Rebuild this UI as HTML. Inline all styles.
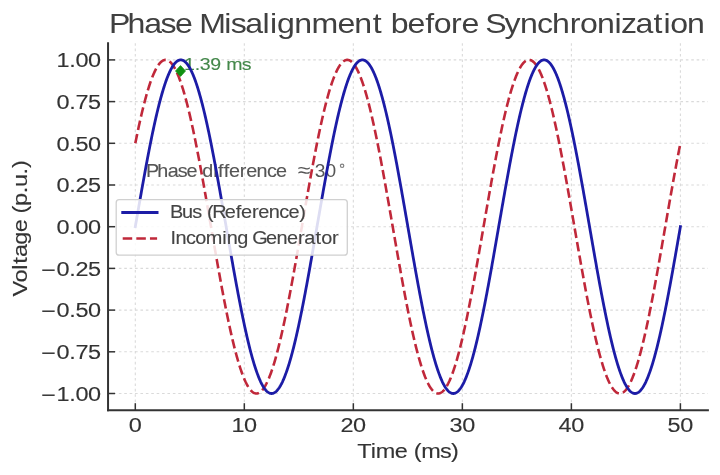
<!DOCTYPE html>
<html><head><meta charset="utf-8"><style>
html,body{margin:0;padding:0;background:#fff;}
svg{display:block;filter:blur(0.55px);}
text{font-family:"Liberation Sans",sans-serif;}
</style></head><body>
<svg width="720" height="475" viewBox="0 0 720 475">
<rect width="720" height="475" fill="#fff"/>
<g stroke="#dadada" stroke-width="1.1" stroke-dasharray="2.6,2.8">
<line x1="135.30" y1="43.2" x2="135.30" y2="410.2"/><line x1="244.32" y1="43.2" x2="244.32" y2="410.2"/><line x1="353.34" y1="43.2" x2="353.34" y2="410.2"/><line x1="462.36" y1="43.2" x2="462.36" y2="410.2"/><line x1="571.38" y1="43.2" x2="571.38" y2="410.2"/><line x1="680.40" y1="43.2" x2="680.40" y2="410.2"/><line x1="108.05" y1="59.90" x2="707.9" y2="59.90"/><line x1="108.05" y1="101.60" x2="707.9" y2="101.60"/><line x1="108.05" y1="143.30" x2="707.9" y2="143.30"/><line x1="108.05" y1="185.00" x2="707.9" y2="185.00"/><line x1="108.05" y1="226.70" x2="707.9" y2="226.70"/><line x1="108.05" y1="268.40" x2="707.9" y2="268.40"/><line x1="108.05" y1="310.10" x2="707.9" y2="310.10"/><line x1="108.05" y1="351.80" x2="707.9" y2="351.80"/><line x1="108.05" y1="393.50" x2="707.9" y2="393.50"/>
</g>
<text transform="translate(184.30,70.20) scale(1.13,1)" x="-0.17 9.20 13.76 23.05 32.43 37.05 50.85" y="0" font-size="17.32" fill="#44884a" stroke="#44884a" stroke-width="0.12">1.39 ms</text><text transform="translate(147.50,176.60) scale(1.13,1)" x="-1.39 8.69 17.88 26.72 34.60 43.91 48.49 58.14 62.29 67.48 72.17 81.68 87.29 96.50 105.71 113.80" y="0" font-size="17.48" fill="#555555" stroke="#555555" stroke-width="0.12">Phase difference</text><text transform="translate(298.0,177.2) scale(1.15,1)" x="0" y="0" font-size="20" fill="#555555">≈</text><text transform="translate(314.8,177.1) scale(1.065,1)" x="0" y="0" font-size="18" fill="#555555">30</text><circle cx="342.1" cy="165.8" r="1.7" fill="none" stroke="#808080" stroke-width="1.2"/>
<path d="M135.30,143.30 L135.66,141.49 L136.03,139.70 L136.39,137.91 L136.75,136.15 L137.12,134.39 L137.48,132.66 L137.84,130.93 L138.21,129.22 L138.57,127.53 L138.93,125.85 L139.30,124.19 L139.66,122.55 L140.02,120.92 L140.39,119.30 L140.75,117.71 L141.11,116.13 L141.48,114.57 L141.84,113.03 L142.20,111.50 L142.57,110.00 L142.93,108.51 L143.29,107.04 L143.66,105.59 L144.02,104.16 L144.39,102.74 L144.75,101.35 L145.11,99.98 L145.48,98.62 L145.84,97.29 L146.20,95.98 L146.57,94.69 L146.93,93.42 L147.29,92.17 L147.66,90.94 L148.02,89.73 L148.38,88.55 L148.75,87.38 L149.11,86.24 L149.47,85.12 L149.84,84.03 L150.20,82.95 L150.56,81.90 L150.93,80.87 L151.29,79.86 L151.65,78.88 L152.02,77.92 L152.38,76.99 L152.74,76.07 L153.11,75.19 L153.47,74.32 L153.83,73.48 L154.20,72.66 L154.56,71.87 L154.92,71.10 L155.29,70.36 L155.65,69.64 L156.01,68.95 L156.38,68.28 L156.74,67.64 L157.10,67.02 L157.47,66.43 L157.83,65.86 L158.19,65.32 L158.56,64.80 L158.92,64.31 L159.28,63.84 L159.65,63.40 L160.01,62.99 L160.37,62.60 L160.74,62.24 L161.10,61.90 L161.46,61.59 L161.83,61.30 L162.19,61.05 L162.56,60.81 L162.92,60.61 L163.28,60.43 L163.65,60.27 L164.01,60.15 L164.37,60.05 L164.74,59.97 L165.10,59.92 L165.46,59.90 L165.83,59.91 L166.19,59.94 L166.55,59.99 L166.92,60.08 L167.28,60.19 L167.64,60.32 L168.01,60.48 L168.37,60.67 L168.73,60.89 L169.10,61.13 L169.46,61.40 L169.82,61.69 L170.19,62.01 L170.55,62.35 L170.91,62.73 L171.28,63.12 L171.64,63.54 L172.00,63.99 L172.37,64.47 L172.73,64.97 L173.09,65.49 L173.46,66.04 L173.82,66.62 L174.18,67.22 L174.55,67.85 L174.91,68.50 L175.27,69.18 L175.64,69.88 L176.00,70.61 L176.36,71.36 L176.73,72.13 L177.09,72.93 L177.45,73.76 L177.82,74.61 L178.18,75.48 L178.54,76.38 L178.91,77.30 L179.27,78.24 L179.63,79.21 L180.00,80.20 L180.36,81.21 L180.73,82.25 L181.09,83.31 L181.45,84.39 L181.82,85.49 L182.18,86.62 L182.54,87.77 L182.91,88.94 L183.27,90.13 L183.63,91.35 L184.00,92.58 L184.36,93.84 L184.72,95.12 L185.09,96.42 L185.45,97.73 L185.81,99.07 L186.18,100.43 L186.54,101.81 L186.90,103.21 L187.27,104.63 L187.63,106.07 L187.99,107.53 L188.36,109.00 L188.72,110.50 L189.08,112.01 L189.45,113.54 L189.81,115.09 L190.17,116.66 L190.54,118.24 L190.90,119.84 L191.26,121.46 L191.63,123.09 L191.99,124.74 L192.35,126.41 L192.72,128.09 L193.08,129.79 L193.44,131.50 L193.81,133.23 L194.17,134.98 L194.53,136.73 L194.90,138.51 L195.26,140.29 L195.62,142.09 L195.99,143.91 L196.35,145.73 L196.71,147.57 L197.08,149.42 L197.44,151.29 L197.80,153.16 L198.17,155.05 L198.53,156.95 L198.90,158.86 L199.26,160.78 L199.62,162.71 L199.99,164.65 L200.35,166.60 L200.71,168.56 L201.08,170.53 L201.44,172.51 L201.80,174.49 L202.17,176.49 L202.53,178.49 L202.89,180.50 L203.26,182.52 L203.62,184.54 L203.98,186.57 L204.35,188.61 L204.71,190.65 L205.07,192.70 L205.44,194.76 L205.80,196.82 L206.16,198.88 L206.53,200.95 L206.89,203.02 L207.25,205.10 L207.62,207.18 L207.98,209.26 L208.34,211.35 L208.71,213.44 L209.07,215.53 L209.43,217.62 L209.80,219.72 L210.16,221.81 L210.52,223.91 L210.89,226.00 L211.25,228.10 L211.61,230.19 L211.98,232.29 L212.34,234.38 L212.70,236.48 L213.07,238.57 L213.43,240.66 L213.79,242.75 L214.16,244.83 L214.52,246.91 L214.88,248.99 L215.25,251.07 L215.61,253.14 L215.97,255.21 L216.34,257.27 L216.70,259.33 L217.06,261.38 L217.43,263.43 L217.79,265.47 L218.16,267.50 L218.52,269.53 L218.88,271.56 L219.25,273.57 L219.61,275.58 L219.97,277.58 L220.34,279.57 L220.70,281.55 L221.06,283.53 L221.43,285.50 L221.79,287.45 L222.15,289.40 L222.52,291.34 L222.88,293.26 L223.24,295.18 L223.61,297.09 L223.97,298.98 L224.33,300.87 L224.70,302.74 L225.06,304.60 L225.42,306.44 L225.79,308.28 L226.15,310.10 L226.51,311.91 L226.88,313.70 L227.24,315.49 L227.60,317.25 L227.97,319.01 L228.33,320.74 L228.69,322.47 L229.06,324.18 L229.42,325.87 L229.78,327.55 L230.15,329.21 L230.51,330.85 L230.87,332.48 L231.24,334.10 L231.60,335.69 L231.96,337.27 L232.33,338.83 L232.69,340.37 L233.05,341.90 L233.42,343.40 L233.78,344.89 L234.14,346.36 L234.51,347.81 L234.87,349.24 L235.24,350.66 L235.60,352.05 L235.96,353.42 L236.33,354.78 L236.69,356.11 L237.05,357.42 L237.42,358.71 L237.78,359.98 L238.14,361.23 L238.51,362.46 L238.87,363.67 L239.23,364.85 L239.60,366.02 L239.96,367.16 L240.32,368.28 L240.69,369.37 L241.05,370.45 L241.41,371.50 L241.78,372.53 L242.14,373.54 L242.50,374.52 L242.87,375.48 L243.23,376.41 L243.59,377.33 L243.96,378.21 L244.32,379.08 L244.68,379.92 L245.05,380.74 L245.41,381.53 L245.77,382.30 L246.14,383.04 L246.50,383.76 L246.86,384.45 L247.23,385.12 L247.59,385.76 L247.95,386.38 L248.32,386.97 L248.68,387.54 L249.04,388.08 L249.41,388.60 L249.77,389.09 L250.13,389.56 L250.50,390.00 L250.86,390.41 L251.22,390.80 L251.59,391.16 L251.95,391.50 L252.31,391.81 L252.68,392.10 L253.04,392.35 L253.41,392.59 L253.77,392.79 L254.13,392.97 L254.50,393.13 L254.86,393.25 L255.22,393.35 L255.59,393.43 L255.95,393.48 L256.31,393.50 L256.68,393.49 L257.04,393.46 L257.40,393.41 L257.77,393.32 L258.13,393.21 L258.49,393.08 L258.86,392.92 L259.22,392.73 L259.58,392.51 L259.95,392.27 L260.31,392.00 L260.67,391.71 L261.04,391.39 L261.40,391.05 L261.76,390.67 L262.13,390.28 L262.49,389.86 L262.85,389.41 L263.22,388.93 L263.58,388.43 L263.94,387.91 L264.31,387.36 L264.67,386.78 L265.03,386.18 L265.40,385.55 L265.76,384.90 L266.12,384.22 L266.49,383.52 L266.85,382.79 L267.21,382.04 L267.58,381.27 L267.94,380.47 L268.30,379.64 L268.67,378.79 L269.03,377.92 L269.39,377.02 L269.76,376.10 L270.12,375.16 L270.48,374.19 L270.85,373.20 L271.21,372.19 L271.57,371.15 L271.94,370.09 L272.30,369.01 L272.67,367.91 L273.03,366.78 L273.39,365.63 L273.76,364.46 L274.12,363.27 L274.48,362.05 L274.85,360.82 L275.21,359.56 L275.57,358.28 L275.94,356.98 L276.30,355.67 L276.66,354.33 L277.03,352.97 L277.39,351.59 L277.75,350.19 L278.12,348.77 L278.48,347.33 L278.84,345.87 L279.21,344.40 L279.57,342.90 L279.93,341.39 L280.30,339.86 L280.66,338.31 L281.02,336.74 L281.39,335.16 L281.75,333.56 L282.11,331.94 L282.48,330.31 L282.84,328.66 L283.20,326.99 L283.57,325.31 L283.93,323.61 L284.29,321.90 L284.66,320.17 L285.02,318.42 L285.38,316.67 L285.75,314.89 L286.11,313.11 L286.47,311.31 L286.84,309.49 L287.20,307.67 L287.56,305.83 L287.93,303.98 L288.29,302.11 L288.65,300.24 L289.02,298.35 L289.38,296.45 L289.75,294.54 L290.11,292.62 L290.47,290.69 L290.84,288.75 L291.20,286.80 L291.56,284.84 L291.93,282.87 L292.29,280.89 L292.65,278.91 L293.02,276.91 L293.38,274.91 L293.74,272.90 L294.11,270.88 L294.47,268.86 L294.83,266.83 L295.20,264.79 L295.56,262.75 L295.92,260.70 L296.29,258.64 L296.65,256.58 L297.01,254.52 L297.38,252.45 L297.74,250.38 L298.10,248.30 L298.47,246.22 L298.83,244.14 L299.19,242.05 L299.56,239.96 L299.92,237.87 L300.28,235.78 L300.65,233.68 L301.01,231.59 L301.37,229.49 L301.74,227.40 L302.10,225.30 L302.46,223.21 L302.83,221.11 L303.19,219.02 L303.55,216.92 L303.92,214.83 L304.28,212.74 L304.64,210.65 L305.01,208.57 L305.37,206.49 L305.73,204.41 L306.10,202.33 L306.46,200.26 L306.82,198.19 L307.19,196.13 L307.55,194.07 L307.91,192.02 L308.28,189.97 L308.64,187.93 L309.01,185.90 L309.37,183.87 L309.73,181.84 L310.10,179.83 L310.46,177.82 L310.82,175.82 L311.19,173.83 L311.55,171.85 L311.91,169.87 L312.28,167.90 L312.64,165.95 L313.00,164.00 L313.37,162.06 L313.73,160.14 L314.09,158.22 L314.46,156.31 L314.82,154.42 L315.18,152.53 L315.55,150.66 L315.91,148.80 L316.27,146.96 L316.64,145.12 L317.00,143.30 L317.36,141.49 L317.73,139.70 L318.09,137.91 L318.45,136.15 L318.82,134.39 L319.18,132.66 L319.54,130.93 L319.91,129.22 L320.27,127.53 L320.63,125.85 L321.00,124.19 L321.36,122.55 L321.72,120.92 L322.09,119.30 L322.45,117.71 L322.81,116.13 L323.18,114.57 L323.54,113.03 L323.90,111.50 L324.27,110.00 L324.63,108.51 L324.99,107.04 L325.36,105.59 L325.72,104.16 L326.09,102.74 L326.45,101.35 L326.81,99.98 L327.18,98.62 L327.54,97.29 L327.90,95.98 L328.27,94.69 L328.63,93.42 L328.99,92.17 L329.36,90.94 L329.72,89.73 L330.08,88.55 L330.45,87.38 L330.81,86.24 L331.17,85.12 L331.54,84.03 L331.90,82.95 L332.26,81.90 L332.63,80.87 L332.99,79.86 L333.35,78.88 L333.72,77.92 L334.08,76.99 L334.44,76.07 L334.81,75.19 L335.17,74.32 L335.53,73.48 L335.90,72.66 L336.26,71.87 L336.62,71.10 L336.99,70.36 L337.35,69.64 L337.71,68.95 L338.08,68.28 L338.44,67.64 L338.80,67.02 L339.17,66.43 L339.53,65.86 L339.89,65.32 L340.26,64.80 L340.62,64.31 L340.98,63.84 L341.35,63.40 L341.71,62.99 L342.07,62.60 L342.44,62.24 L342.80,61.90 L343.16,61.59 L343.53,61.30 L343.89,61.05 L344.25,60.81 L344.62,60.61 L344.98,60.43 L345.35,60.27 L345.71,60.15 L346.07,60.05 L346.44,59.97 L346.80,59.92 L347.16,59.90 L347.53,59.91 L347.89,59.94 L348.25,59.99 L348.62,60.08 L348.98,60.19 L349.34,60.32 L349.71,60.48 L350.07,60.67 L350.43,60.89 L350.80,61.13 L351.16,61.40 L351.52,61.69 L351.89,62.01 L352.25,62.35 L352.61,62.73 L352.98,63.12 L353.34,63.54 L353.70,63.99 L354.07,64.47 L354.43,64.97 L354.79,65.49 L355.16,66.04 L355.52,66.62 L355.88,67.22 L356.25,67.85 L356.61,68.50 L356.97,69.18 L357.34,69.88 L357.70,70.61 L358.06,71.36 L358.43,72.13 L358.79,72.93 L359.15,73.76 L359.52,74.61 L359.88,75.48 L360.24,76.38 L360.61,77.30 L360.97,78.24 L361.33,79.21 L361.70,80.20 L362.06,81.21 L362.42,82.25 L362.79,83.31 L363.15,84.39 L363.52,85.49 L363.88,86.62 L364.24,87.77 L364.61,88.94 L364.97,90.13 L365.33,91.35 L365.70,92.58 L366.06,93.84 L366.42,95.12 L366.79,96.42 L367.15,97.73 L367.51,99.07 L367.88,100.43 L368.24,101.81 L368.60,103.21 L368.97,104.63 L369.33,106.07 L369.69,107.53 L370.06,109.00 L370.42,110.50 L370.78,112.01 L371.15,113.54 L371.51,115.09 L371.87,116.66 L372.24,118.24 L372.60,119.84 L372.96,121.46 L373.33,123.09 L373.69,124.74 L374.05,126.41 L374.42,128.09 L374.78,129.79 L375.14,131.50 L375.51,133.23 L375.87,134.98 L376.23,136.73 L376.60,138.51 L376.96,140.29 L377.32,142.09 L377.69,143.91 L378.05,145.73 L378.41,147.57 L378.78,149.42 L379.14,151.29 L379.50,153.16 L379.87,155.05 L380.23,156.95 L380.60,158.86 L380.96,160.78 L381.32,162.71 L381.69,164.65 L382.05,166.60 L382.41,168.56 L382.78,170.53 L383.14,172.51 L383.50,174.49 L383.87,176.49 L384.23,178.49 L384.59,180.50 L384.96,182.52 L385.32,184.54 L385.68,186.57 L386.05,188.61 L386.41,190.65 L386.77,192.70 L387.14,194.76 L387.50,196.82 L387.86,198.88 L388.23,200.95 L388.59,203.02 L388.95,205.10 L389.32,207.18 L389.68,209.26 L390.04,211.35 L390.41,213.44 L390.77,215.53 L391.13,217.62 L391.50,219.72 L391.86,221.81 L392.22,223.91 L392.59,226.00 L392.95,228.10 L393.31,230.19 L393.68,232.29 L394.04,234.38 L394.40,236.48 L394.77,238.57 L395.13,240.66 L395.49,242.75 L395.86,244.83 L396.22,246.91 L396.58,248.99 L396.95,251.07 L397.31,253.14 L397.67,255.21 L398.04,257.27 L398.40,259.33 L398.76,261.38 L399.13,263.43 L399.49,265.47 L399.86,267.50 L400.22,269.53 L400.58,271.56 L400.95,273.57 L401.31,275.58 L401.67,277.58 L402.04,279.57 L402.40,281.55 L402.76,283.53 L403.13,285.50 L403.49,287.45 L403.85,289.40 L404.22,291.34 L404.58,293.26 L404.94,295.18 L405.31,297.09 L405.67,298.98 L406.03,300.87 L406.40,302.74 L406.76,304.60 L407.12,306.44 L407.49,308.28 L407.85,310.10 L408.21,311.91 L408.58,313.70 L408.94,315.49 L409.30,317.25 L409.67,319.01 L410.03,320.74 L410.39,322.47 L410.76,324.18 L411.12,325.87 L411.48,327.55 L411.85,329.21 L412.21,330.85 L412.57,332.48 L412.94,334.10 L413.30,335.69 L413.66,337.27 L414.03,338.83 L414.39,340.37 L414.75,341.90 L415.12,343.40 L415.48,344.89 L415.84,346.36 L416.21,347.81 L416.57,349.24 L416.94,350.66 L417.30,352.05 L417.66,353.42 L418.03,354.78 L418.39,356.11 L418.75,357.42 L419.12,358.71 L419.48,359.98 L419.84,361.23 L420.21,362.46 L420.57,363.67 L420.93,364.85 L421.30,366.02 L421.66,367.16 L422.02,368.28 L422.39,369.37 L422.75,370.45 L423.11,371.50 L423.48,372.53 L423.84,373.54 L424.20,374.52 L424.57,375.48 L424.93,376.41 L425.29,377.33 L425.66,378.21 L426.02,379.08 L426.38,379.92 L426.75,380.74 L427.11,381.53 L427.47,382.30 L427.84,383.04 L428.20,383.76 L428.56,384.45 L428.93,385.12 L429.29,385.76 L429.65,386.38 L430.02,386.97 L430.38,387.54 L430.74,388.08 L431.11,388.60 L431.47,389.09 L431.83,389.56 L432.20,390.00 L432.56,390.41 L432.92,390.80 L433.29,391.16 L433.65,391.50 L434.01,391.81 L434.38,392.10 L434.74,392.35 L435.11,392.59 L435.47,392.79 L435.83,392.97 L436.20,393.13 L436.56,393.25 L436.92,393.35 L437.29,393.43 L437.65,393.48 L438.01,393.50 L438.38,393.49 L438.74,393.46 L439.10,393.41 L439.47,393.32 L439.83,393.21 L440.19,393.08 L440.56,392.92 L440.92,392.73 L441.28,392.51 L441.65,392.27 L442.01,392.00 L442.37,391.71 L442.74,391.39 L443.10,391.05 L443.46,390.67 L443.83,390.28 L444.19,389.86 L444.55,389.41 L444.92,388.93 L445.28,388.43 L445.64,387.91 L446.01,387.36 L446.37,386.78 L446.73,386.18 L447.10,385.55 L447.46,384.90 L447.82,384.22 L448.19,383.52 L448.55,382.79 L448.91,382.04 L449.28,381.27 L449.64,380.47 L450.00,379.64 L450.37,378.79 L450.73,377.92 L451.09,377.02 L451.46,376.10 L451.82,375.16 L452.18,374.19 L452.55,373.20 L452.91,372.19 L453.27,371.15 L453.64,370.09 L454.00,369.01 L454.37,367.91 L454.73,366.78 L455.09,365.63 L455.46,364.46 L455.82,363.27 L456.18,362.05 L456.55,360.82 L456.91,359.56 L457.27,358.28 L457.64,356.98 L458.00,355.67 L458.36,354.33 L458.73,352.97 L459.09,351.59 L459.45,350.19 L459.82,348.77 L460.18,347.33 L460.54,345.87 L460.91,344.40 L461.27,342.90 L461.63,341.39 L462.00,339.86 L462.36,338.31 L462.72,336.74 L463.09,335.16 L463.45,333.56 L463.81,331.94 L464.18,330.31 L464.54,328.66 L464.90,326.99 L465.27,325.31 L465.63,323.61 L465.99,321.90 L466.36,320.17 L466.72,318.42 L467.08,316.67 L467.45,314.89 L467.81,313.11 L468.17,311.31 L468.54,309.49 L468.90,307.67 L469.26,305.83 L469.63,303.98 L469.99,302.11 L470.35,300.24 L470.72,298.35 L471.08,296.45 L471.44,294.54 L471.81,292.62 L472.17,290.69 L472.54,288.75 L472.90,286.80 L473.26,284.84 L473.63,282.87 L473.99,280.89 L474.35,278.91 L474.72,276.91 L475.08,274.91 L475.44,272.90 L475.81,270.88 L476.17,268.86 L476.53,266.83 L476.90,264.79 L477.26,262.75 L477.62,260.70 L477.99,258.64 L478.35,256.58 L478.71,254.52 L479.08,252.45 L479.44,250.38 L479.80,248.30 L480.17,246.22 L480.53,244.14 L480.89,242.05 L481.26,239.96 L481.62,237.87 L481.98,235.78 L482.35,233.68 L482.71,231.59 L483.07,229.49 L483.44,227.40 L483.80,225.30 L484.16,223.21 L484.53,221.11 L484.89,219.02 L485.25,216.92 L485.62,214.83 L485.98,212.74 L486.34,210.65 L486.71,208.57 L487.07,206.49 L487.43,204.41 L487.80,202.33 L488.16,200.26 L488.52,198.19 L488.89,196.13 L489.25,194.07 L489.62,192.02 L489.98,189.97 L490.34,187.93 L490.71,185.90 L491.07,183.87 L491.43,181.84 L491.80,179.83 L492.16,177.82 L492.52,175.82 L492.89,173.83 L493.25,171.85 L493.61,169.87 L493.98,167.90 L494.34,165.95 L494.70,164.00 L495.07,162.06 L495.43,160.14 L495.79,158.22 L496.16,156.31 L496.52,154.42 L496.88,152.53 L497.25,150.66 L497.61,148.80 L497.97,146.96 L498.34,145.12 L498.70,143.30 L499.06,141.49 L499.43,139.70 L499.79,137.91 L500.15,136.15 L500.52,134.39 L500.88,132.66 L501.24,130.93 L501.61,129.22 L501.97,127.53 L502.33,125.85 L502.70,124.19 L503.06,122.55 L503.42,120.92 L503.79,119.30 L504.15,117.71 L504.51,116.13 L504.88,114.57 L505.24,113.03 L505.60,111.50 L505.97,110.00 L506.33,108.51 L506.69,107.04 L507.06,105.59 L507.42,104.16 L507.78,102.74 L508.15,101.35 L508.51,99.98 L508.88,98.62 L509.24,97.29 L509.60,95.98 L509.97,94.69 L510.33,93.42 L510.69,92.17 L511.06,90.94 L511.42,89.73 L511.78,88.55 L512.15,87.38 L512.51,86.24 L512.87,85.12 L513.24,84.03 L513.60,82.95 L513.96,81.90 L514.33,80.87 L514.69,79.86 L515.05,78.88 L515.42,77.92 L515.78,76.99 L516.14,76.07 L516.51,75.19 L516.87,74.32 L517.23,73.48 L517.60,72.66 L517.96,71.87 L518.32,71.10 L518.69,70.36 L519.05,69.64 L519.41,68.95 L519.78,68.28 L520.14,67.64 L520.50,67.02 L520.87,66.43 L521.23,65.86 L521.59,65.32 L521.96,64.80 L522.32,64.31 L522.68,63.84 L523.05,63.40 L523.41,62.99 L523.77,62.60 L524.14,62.24 L524.50,61.90 L524.86,61.59 L525.23,61.30 L525.59,61.05 L525.95,60.81 L526.32,60.61 L526.68,60.43 L527.05,60.27 L527.41,60.15 L527.77,60.05 L528.14,59.97 L528.50,59.92 L528.86,59.90 L529.23,59.91 L529.59,59.94 L529.95,59.99 L530.32,60.08 L530.68,60.19 L531.04,60.32 L531.41,60.48 L531.77,60.67 L532.13,60.89 L532.50,61.13 L532.86,61.40 L533.22,61.69 L533.59,62.01 L533.95,62.35 L534.31,62.73 L534.68,63.12 L535.04,63.54 L535.40,63.99 L535.77,64.47 L536.13,64.97 L536.49,65.49 L536.86,66.04 L537.22,66.62 L537.58,67.22 L537.95,67.85 L538.31,68.50 L538.67,69.18 L539.04,69.88 L539.40,70.61 L539.76,71.36 L540.13,72.13 L540.49,72.93 L540.85,73.76 L541.22,74.61 L541.58,75.48 L541.94,76.38 L542.31,77.30 L542.67,78.24 L543.03,79.21 L543.40,80.20 L543.76,81.21 L544.12,82.25 L544.49,83.31 L544.85,84.39 L545.22,85.49 L545.58,86.62 L545.94,87.77 L546.31,88.94 L546.67,90.13 L547.03,91.35 L547.40,92.58 L547.76,93.84 L548.12,95.12 L548.49,96.42 L548.85,97.73 L549.21,99.07 L549.58,100.43 L549.94,101.81 L550.30,103.21 L550.67,104.63 L551.03,106.07 L551.39,107.53 L551.76,109.00 L552.12,110.50 L552.48,112.01 L552.85,113.54 L553.21,115.09 L553.57,116.66 L553.94,118.24 L554.30,119.84 L554.66,121.46 L555.03,123.09 L555.39,124.74 L555.75,126.41 L556.12,128.09 L556.48,129.79 L556.84,131.50 L557.21,133.23 L557.57,134.98 L557.93,136.73 L558.30,138.51 L558.66,140.29 L559.02,142.09 L559.39,143.91 L559.75,145.73 L560.11,147.57 L560.48,149.42 L560.84,151.29 L561.20,153.16 L561.57,155.05 L561.93,156.95 L562.29,158.86 L562.66,160.78 L563.02,162.71 L563.39,164.65 L563.75,166.60 L564.11,168.56 L564.48,170.53 L564.84,172.51 L565.20,174.49 L565.57,176.49 L565.93,178.49 L566.29,180.50 L566.66,182.52 L567.02,184.54 L567.38,186.57 L567.75,188.61 L568.11,190.65 L568.47,192.70 L568.84,194.76 L569.20,196.82 L569.56,198.88 L569.93,200.95 L570.29,203.02 L570.65,205.10 L571.02,207.18 L571.38,209.26 L571.74,211.35 L572.11,213.44 L572.47,215.53 L572.83,217.62 L573.20,219.72 L573.56,221.81 L573.92,223.91 L574.29,226.00 L574.65,228.10 L575.01,230.19 L575.38,232.29 L575.74,234.38 L576.10,236.48 L576.47,238.57 L576.83,240.66 L577.19,242.75 L577.56,244.83 L577.92,246.91 L578.28,248.99 L578.65,251.07 L579.01,253.14 L579.37,255.21 L579.74,257.27 L580.10,259.33 L580.47,261.38 L580.83,263.43 L581.19,265.47 L581.56,267.50 L581.92,269.53 L582.28,271.56 L582.65,273.57 L583.01,275.58 L583.37,277.58 L583.74,279.57 L584.10,281.55 L584.46,283.53 L584.83,285.50 L585.19,287.45 L585.55,289.40 L585.92,291.34 L586.28,293.26 L586.64,295.18 L587.01,297.09 L587.37,298.98 L587.73,300.87 L588.10,302.74 L588.46,304.60 L588.82,306.44 L589.19,308.28 L589.55,310.10 L589.91,311.91 L590.28,313.70 L590.64,315.49 L591.00,317.25 L591.37,319.01 L591.73,320.74 L592.09,322.47 L592.46,324.18 L592.82,325.87 L593.18,327.55 L593.55,329.21 L593.91,330.85 L594.27,332.48 L594.64,334.10 L595.00,335.69 L595.36,337.27 L595.73,338.83 L596.09,340.37 L596.45,341.90 L596.82,343.40 L597.18,344.89 L597.54,346.36 L597.91,347.81 L598.27,349.24 L598.63,350.66 L599.00,352.05 L599.36,353.42 L599.73,354.78 L600.09,356.11 L600.45,357.42 L600.82,358.71 L601.18,359.98 L601.54,361.23 L601.91,362.46 L602.27,363.67 L602.63,364.85 L603.00,366.02 L603.36,367.16 L603.72,368.28 L604.09,369.37 L604.45,370.45 L604.81,371.50 L605.18,372.53 L605.54,373.54 L605.90,374.52 L606.27,375.48 L606.63,376.41 L606.99,377.33 L607.36,378.21 L607.72,379.08 L608.08,379.92 L608.45,380.74 L608.81,381.53 L609.17,382.30 L609.54,383.04 L609.90,383.76 L610.26,384.45 L610.63,385.12 L610.99,385.76 L611.35,386.38 L611.72,386.97 L612.08,387.54 L612.44,388.08 L612.81,388.60 L613.17,389.09 L613.53,389.56 L613.90,390.00 L614.26,390.41 L614.62,390.80 L614.99,391.16 L615.35,391.50 L615.71,391.81 L616.08,392.10 L616.44,392.35 L616.80,392.59 L617.17,392.79 L617.53,392.97 L617.90,393.13 L618.26,393.25 L618.62,393.35 L618.99,393.43 L619.35,393.48 L619.71,393.50 L620.08,393.49 L620.44,393.46 L620.80,393.41 L621.17,393.32 L621.53,393.21 L621.89,393.08 L622.26,392.92 L622.62,392.73 L622.98,392.51 L623.35,392.27 L623.71,392.00 L624.07,391.71 L624.44,391.39 L624.80,391.05 L625.16,390.67 L625.53,390.28 L625.89,389.86 L626.25,389.41 L626.62,388.93 L626.98,388.43 L627.34,387.91 L627.71,387.36 L628.07,386.78 L628.43,386.18 L628.80,385.55 L629.16,384.90 L629.52,384.22 L629.89,383.52 L630.25,382.79 L630.61,382.04 L630.98,381.27 L631.34,380.47 L631.70,379.64 L632.07,378.79 L632.43,377.92 L632.79,377.02 L633.16,376.10 L633.52,375.16 L633.88,374.19 L634.25,373.20 L634.61,372.19 L634.98,371.15 L635.34,370.09 L635.70,369.01 L636.07,367.91 L636.43,366.78 L636.79,365.63 L637.16,364.46 L637.52,363.27 L637.88,362.05 L638.25,360.82 L638.61,359.56 L638.97,358.28 L639.34,356.98 L639.70,355.67 L640.06,354.33 L640.43,352.97 L640.79,351.59 L641.15,350.19 L641.52,348.77 L641.88,347.33 L642.24,345.87 L642.61,344.40 L642.97,342.90 L643.33,341.39 L643.70,339.86 L644.06,338.31 L644.42,336.74 L644.79,335.16 L645.15,333.56 L645.51,331.94 L645.88,330.31 L646.24,328.66 L646.60,326.99 L646.97,325.31 L647.33,323.61 L647.69,321.90 L648.06,320.17 L648.42,318.42 L648.78,316.67 L649.15,314.89 L649.51,313.11 L649.87,311.31 L650.24,309.49 L650.60,307.67 L650.96,305.83 L651.33,303.98 L651.69,302.11 L652.05,300.24 L652.42,298.35 L652.78,296.45 L653.14,294.54 L653.51,292.62 L653.87,290.69 L654.24,288.75 L654.60,286.80 L654.96,284.84 L655.33,282.87 L655.69,280.89 L656.05,278.91 L656.42,276.91 L656.78,274.91 L657.14,272.90 L657.51,270.88 L657.87,268.86 L658.23,266.83 L658.60,264.79 L658.96,262.75 L659.32,260.70 L659.69,258.64 L660.05,256.58 L660.41,254.52 L660.78,252.45 L661.14,250.38 L661.50,248.30 L661.87,246.22 L662.23,244.14 L662.59,242.05 L662.96,239.96 L663.32,237.87 L663.68,235.78 L664.05,233.68 L664.41,231.59 L664.77,229.49 L665.14,227.40 L665.50,225.30 L665.86,223.21 L666.23,221.11 L666.59,219.02 L666.95,216.92 L667.32,214.83 L667.68,212.74 L668.04,210.65 L668.41,208.57 L668.77,206.49 L669.13,204.41 L669.50,202.33 L669.86,200.26 L670.22,198.19 L670.59,196.13 L670.95,194.07 L671.32,192.02 L671.68,189.97 L672.04,187.93 L672.41,185.90 L672.77,183.87 L673.13,181.84 L673.50,179.83 L673.86,177.82 L674.22,175.82 L674.59,173.83 L674.95,171.85 L675.31,169.87 L675.68,167.90 L676.04,165.95 L676.40,164.00 L676.77,162.06 L677.13,160.14 L677.49,158.22 L677.86,156.31 L678.22,154.42 L678.58,152.53 L678.95,150.66 L679.31,148.80 L679.67,146.96 L680.04,145.12 L680.40,143.30" fill="none" stroke="#c0283a" stroke-width="2.6" stroke-dasharray="9.513,4.114"/>
<path d="M135.30,226.70 L135.66,224.60 L136.03,222.51 L136.39,220.41 L136.75,218.32 L137.12,216.23 L137.48,214.14 L137.84,212.05 L138.21,209.96 L138.57,207.88 L138.93,205.79 L139.30,203.72 L139.66,201.64 L140.02,199.57 L140.39,197.51 L140.75,195.44 L141.11,193.39 L141.48,191.34 L141.84,189.29 L142.20,187.25 L142.57,185.22 L142.93,183.19 L143.29,181.17 L143.66,179.16 L144.02,177.15 L144.39,175.16 L144.75,173.17 L145.11,171.19 L145.48,169.21 L145.84,167.25 L146.20,165.30 L146.57,163.35 L146.93,161.42 L147.29,159.50 L147.66,157.58 L148.02,155.68 L148.38,153.79 L148.75,151.91 L149.11,150.04 L149.47,148.19 L149.84,146.34 L150.20,144.51 L150.56,142.70 L150.93,140.89 L151.29,139.10 L151.65,137.32 L152.02,135.56 L152.38,133.81 L152.74,132.08 L153.11,130.36 L153.47,128.66 L153.83,126.97 L154.20,125.30 L154.56,123.64 L154.92,122.00 L155.29,120.38 L155.65,118.77 L156.01,117.18 L156.38,115.61 L156.74,114.05 L157.10,112.52 L157.47,111.00 L157.83,109.50 L158.19,108.02 L158.56,106.55 L158.92,105.11 L159.28,103.68 L159.65,102.28 L160.01,100.89 L160.37,99.52 L160.74,98.18 L161.10,96.85 L161.46,95.55 L161.83,94.26 L162.19,93.00 L162.56,91.76 L162.92,90.53 L163.28,89.33 L163.65,88.16 L164.01,87.00 L164.37,85.87 L164.74,84.75 L165.10,83.66 L165.46,82.60 L165.83,81.55 L166.19,80.53 L166.55,79.53 L166.92,78.56 L167.28,77.61 L167.64,76.68 L168.01,75.77 L168.37,74.89 L168.73,74.04 L169.10,73.21 L169.46,72.40 L169.82,71.61 L170.19,70.85 L170.55,70.12 L170.91,69.41 L171.28,68.72 L171.64,68.06 L172.00,67.43 L172.37,66.82 L172.73,66.23 L173.09,65.67 L173.46,65.14 L173.82,64.63 L174.18,64.15 L174.55,63.69 L174.91,63.26 L175.27,62.85 L175.64,62.47 L176.00,62.12 L176.36,61.79 L176.73,61.49 L177.09,61.22 L177.45,60.97 L177.82,60.74 L178.18,60.54 L178.54,60.37 L178.91,60.23 L179.27,60.11 L179.63,60.02 L180.00,59.95 L180.36,59.91 L180.73,59.90 L181.09,59.91 L181.45,59.95 L181.82,60.02 L182.18,60.11 L182.54,60.23 L182.91,60.37 L183.27,60.54 L183.63,60.74 L184.00,60.97 L184.36,61.22 L184.72,61.49 L185.09,61.79 L185.45,62.12 L185.81,62.47 L186.18,62.85 L186.54,63.26 L186.90,63.69 L187.27,64.15 L187.63,64.63 L187.99,65.14 L188.36,65.67 L188.72,66.23 L189.08,66.82 L189.45,67.43 L189.81,68.06 L190.17,68.72 L190.54,69.41 L190.90,70.12 L191.26,70.85 L191.63,71.61 L191.99,72.40 L192.35,73.21 L192.72,74.04 L193.08,74.89 L193.44,75.77 L193.81,76.68 L194.17,77.61 L194.53,78.56 L194.90,79.53 L195.26,80.53 L195.62,81.55 L195.99,82.60 L196.35,83.66 L196.71,84.75 L197.08,85.87 L197.44,87.00 L197.80,88.16 L198.17,89.33 L198.53,90.53 L198.90,91.76 L199.26,93.00 L199.62,94.26 L199.99,95.55 L200.35,96.85 L200.71,98.18 L201.08,99.52 L201.44,100.89 L201.80,102.28 L202.17,103.68 L202.53,105.11 L202.89,106.55 L203.26,108.02 L203.62,109.50 L203.98,111.00 L204.35,112.52 L204.71,114.05 L205.07,115.61 L205.44,117.18 L205.80,118.77 L206.16,120.38 L206.53,122.00 L206.89,123.64 L207.25,125.30 L207.62,126.97 L207.98,128.66 L208.34,130.36 L208.71,132.08 L209.07,133.81 L209.43,135.56 L209.80,137.32 L210.16,139.10 L210.52,140.89 L210.89,142.70 L211.25,144.51 L211.61,146.34 L211.98,148.19 L212.34,150.04 L212.70,151.91 L213.07,153.79 L213.43,155.68 L213.79,157.58 L214.16,159.50 L214.52,161.42 L214.88,163.35 L215.25,165.30 L215.61,167.25 L215.97,169.21 L216.34,171.19 L216.70,173.17 L217.06,175.16 L217.43,177.15 L217.79,179.16 L218.16,181.17 L218.52,183.19 L218.88,185.22 L219.25,187.25 L219.61,189.29 L219.97,191.34 L220.34,193.39 L220.70,195.44 L221.06,197.51 L221.43,199.57 L221.79,201.64 L222.15,203.72 L222.52,205.79 L222.88,207.88 L223.24,209.96 L223.61,212.05 L223.97,214.14 L224.33,216.23 L224.70,218.32 L225.06,220.41 L225.42,222.51 L225.79,224.60 L226.15,226.70 L226.51,228.80 L226.88,230.89 L227.24,232.99 L227.60,235.08 L227.97,237.17 L228.33,239.26 L228.69,241.35 L229.06,243.44 L229.42,245.52 L229.78,247.61 L230.15,249.68 L230.51,251.76 L230.87,253.83 L231.24,255.89 L231.60,257.96 L231.96,260.01 L232.33,262.06 L232.69,264.11 L233.05,266.15 L233.42,268.18 L233.78,270.21 L234.14,272.23 L234.51,274.24 L234.87,276.25 L235.24,278.24 L235.60,280.23 L235.96,282.21 L236.33,284.19 L236.69,286.15 L237.05,288.10 L237.42,290.05 L237.78,291.98 L238.14,293.90 L238.51,295.82 L238.87,297.72 L239.23,299.61 L239.60,301.49 L239.96,303.36 L240.32,305.21 L240.69,307.06 L241.05,308.89 L241.41,310.70 L241.78,312.51 L242.14,314.30 L242.50,316.08 L242.87,317.84 L243.23,319.59 L243.59,321.32 L243.96,323.04 L244.32,324.74 L244.68,326.43 L245.05,328.10 L245.41,329.76 L245.77,331.40 L246.14,333.02 L246.50,334.63 L246.86,336.22 L247.23,337.79 L247.59,339.35 L247.95,340.88 L248.32,342.40 L248.68,343.90 L249.04,345.38 L249.41,346.85 L249.77,348.29 L250.13,349.72 L250.50,351.12 L250.86,352.51 L251.22,353.88 L251.59,355.22 L251.95,356.55 L252.31,357.85 L252.68,359.14 L253.04,360.40 L253.41,361.64 L253.77,362.87 L254.13,364.07 L254.50,365.24 L254.86,366.40 L255.22,367.53 L255.59,368.65 L255.95,369.74 L256.31,370.80 L256.68,371.85 L257.04,372.87 L257.40,373.87 L257.77,374.84 L258.13,375.79 L258.49,376.72 L258.86,377.63 L259.22,378.51 L259.58,379.36 L259.95,380.19 L260.31,381.00 L260.67,381.79 L261.04,382.55 L261.40,383.28 L261.76,383.99 L262.13,384.68 L262.49,385.34 L262.85,385.97 L263.22,386.58 L263.58,387.17 L263.94,387.73 L264.31,388.26 L264.67,388.77 L265.03,389.25 L265.40,389.71 L265.76,390.14 L266.12,390.55 L266.49,390.93 L266.85,391.28 L267.21,391.61 L267.58,391.91 L267.94,392.18 L268.30,392.43 L268.67,392.66 L269.03,392.86 L269.39,393.03 L269.76,393.17 L270.12,393.29 L270.48,393.38 L270.85,393.45 L271.21,393.49 L271.57,393.50 L271.94,393.49 L272.30,393.45 L272.67,393.38 L273.03,393.29 L273.39,393.17 L273.76,393.03 L274.12,392.86 L274.48,392.66 L274.85,392.43 L275.21,392.18 L275.57,391.91 L275.94,391.61 L276.30,391.28 L276.66,390.93 L277.03,390.55 L277.39,390.14 L277.75,389.71 L278.12,389.25 L278.48,388.77 L278.84,388.26 L279.21,387.73 L279.57,387.17 L279.93,386.58 L280.30,385.97 L280.66,385.34 L281.02,384.68 L281.39,383.99 L281.75,383.28 L282.11,382.55 L282.48,381.79 L282.84,381.00 L283.20,380.19 L283.57,379.36 L283.93,378.51 L284.29,377.63 L284.66,376.72 L285.02,375.79 L285.38,374.84 L285.75,373.87 L286.11,372.87 L286.47,371.85 L286.84,370.80 L287.20,369.74 L287.56,368.65 L287.93,367.53 L288.29,366.40 L288.65,365.24 L289.02,364.07 L289.38,362.87 L289.75,361.64 L290.11,360.40 L290.47,359.14 L290.84,357.85 L291.20,356.55 L291.56,355.22 L291.93,353.88 L292.29,352.51 L292.65,351.12 L293.02,349.72 L293.38,348.29 L293.74,346.85 L294.11,345.38 L294.47,343.90 L294.83,342.40 L295.20,340.88 L295.56,339.35 L295.92,337.79 L296.29,336.22 L296.65,334.63 L297.01,333.02 L297.38,331.40 L297.74,329.76 L298.10,328.10 L298.47,326.43 L298.83,324.74 L299.19,323.04 L299.56,321.32 L299.92,319.59 L300.28,317.84 L300.65,316.08 L301.01,314.30 L301.37,312.51 L301.74,310.70 L302.10,308.89 L302.46,307.06 L302.83,305.21 L303.19,303.36 L303.55,301.49 L303.92,299.61 L304.28,297.72 L304.64,295.82 L305.01,293.90 L305.37,291.98 L305.73,290.05 L306.10,288.10 L306.46,286.15 L306.82,284.19 L307.19,282.21 L307.55,280.23 L307.91,278.24 L308.28,276.25 L308.64,274.24 L309.01,272.23 L309.37,270.21 L309.73,268.18 L310.10,266.15 L310.46,264.11 L310.82,262.06 L311.19,260.01 L311.55,257.96 L311.91,255.89 L312.28,253.83 L312.64,251.76 L313.00,249.68 L313.37,247.61 L313.73,245.52 L314.09,243.44 L314.46,241.35 L314.82,239.26 L315.18,237.17 L315.55,235.08 L315.91,232.99 L316.27,230.89 L316.64,228.80 L317.00,226.70 L317.36,224.60 L317.73,222.51 L318.09,220.41 L318.45,218.32 L318.82,216.23 L319.18,214.14 L319.54,212.05 L319.91,209.96 L320.27,207.88 L320.63,205.79 L321.00,203.72 L321.36,201.64 L321.72,199.57 L322.09,197.51 L322.45,195.44 L322.81,193.39 L323.18,191.34 L323.54,189.29 L323.90,187.25 L324.27,185.22 L324.63,183.19 L324.99,181.17 L325.36,179.16 L325.72,177.15 L326.09,175.16 L326.45,173.17 L326.81,171.19 L327.18,169.21 L327.54,167.25 L327.90,165.30 L328.27,163.35 L328.63,161.42 L328.99,159.50 L329.36,157.58 L329.72,155.68 L330.08,153.79 L330.45,151.91 L330.81,150.04 L331.17,148.19 L331.54,146.34 L331.90,144.51 L332.26,142.70 L332.63,140.89 L332.99,139.10 L333.35,137.32 L333.72,135.56 L334.08,133.81 L334.44,132.08 L334.81,130.36 L335.17,128.66 L335.53,126.97 L335.90,125.30 L336.26,123.64 L336.62,122.00 L336.99,120.38 L337.35,118.77 L337.71,117.18 L338.08,115.61 L338.44,114.05 L338.80,112.52 L339.17,111.00 L339.53,109.50 L339.89,108.02 L340.26,106.55 L340.62,105.11 L340.98,103.68 L341.35,102.28 L341.71,100.89 L342.07,99.52 L342.44,98.18 L342.80,96.85 L343.16,95.55 L343.53,94.26 L343.89,93.00 L344.25,91.76 L344.62,90.53 L344.98,89.33 L345.35,88.16 L345.71,87.00 L346.07,85.87 L346.44,84.75 L346.80,83.66 L347.16,82.60 L347.53,81.55 L347.89,80.53 L348.25,79.53 L348.62,78.56 L348.98,77.61 L349.34,76.68 L349.71,75.77 L350.07,74.89 L350.43,74.04 L350.80,73.21 L351.16,72.40 L351.52,71.61 L351.89,70.85 L352.25,70.12 L352.61,69.41 L352.98,68.72 L353.34,68.06 L353.70,67.43 L354.07,66.82 L354.43,66.23 L354.79,65.67 L355.16,65.14 L355.52,64.63 L355.88,64.15 L356.25,63.69 L356.61,63.26 L356.97,62.85 L357.34,62.47 L357.70,62.12 L358.06,61.79 L358.43,61.49 L358.79,61.22 L359.15,60.97 L359.52,60.74 L359.88,60.54 L360.24,60.37 L360.61,60.23 L360.97,60.11 L361.33,60.02 L361.70,59.95 L362.06,59.91 L362.42,59.90 L362.79,59.91 L363.15,59.95 L363.52,60.02 L363.88,60.11 L364.24,60.23 L364.61,60.37 L364.97,60.54 L365.33,60.74 L365.70,60.97 L366.06,61.22 L366.42,61.49 L366.79,61.79 L367.15,62.12 L367.51,62.47 L367.88,62.85 L368.24,63.26 L368.60,63.69 L368.97,64.15 L369.33,64.63 L369.69,65.14 L370.06,65.67 L370.42,66.23 L370.78,66.82 L371.15,67.43 L371.51,68.06 L371.87,68.72 L372.24,69.41 L372.60,70.12 L372.96,70.85 L373.33,71.61 L373.69,72.40 L374.05,73.21 L374.42,74.04 L374.78,74.89 L375.14,75.77 L375.51,76.68 L375.87,77.61 L376.23,78.56 L376.60,79.53 L376.96,80.53 L377.32,81.55 L377.69,82.60 L378.05,83.66 L378.41,84.75 L378.78,85.87 L379.14,87.00 L379.50,88.16 L379.87,89.33 L380.23,90.53 L380.60,91.76 L380.96,93.00 L381.32,94.26 L381.69,95.55 L382.05,96.85 L382.41,98.18 L382.78,99.52 L383.14,100.89 L383.50,102.28 L383.87,103.68 L384.23,105.11 L384.59,106.55 L384.96,108.02 L385.32,109.50 L385.68,111.00 L386.05,112.52 L386.41,114.05 L386.77,115.61 L387.14,117.18 L387.50,118.77 L387.86,120.38 L388.23,122.00 L388.59,123.64 L388.95,125.30 L389.32,126.97 L389.68,128.66 L390.04,130.36 L390.41,132.08 L390.77,133.81 L391.13,135.56 L391.50,137.32 L391.86,139.10 L392.22,140.89 L392.59,142.70 L392.95,144.51 L393.31,146.34 L393.68,148.19 L394.04,150.04 L394.40,151.91 L394.77,153.79 L395.13,155.68 L395.49,157.58 L395.86,159.50 L396.22,161.42 L396.58,163.35 L396.95,165.30 L397.31,167.25 L397.67,169.21 L398.04,171.19 L398.40,173.17 L398.76,175.16 L399.13,177.15 L399.49,179.16 L399.86,181.17 L400.22,183.19 L400.58,185.22 L400.95,187.25 L401.31,189.29 L401.67,191.34 L402.04,193.39 L402.40,195.44 L402.76,197.51 L403.13,199.57 L403.49,201.64 L403.85,203.72 L404.22,205.79 L404.58,207.88 L404.94,209.96 L405.31,212.05 L405.67,214.14 L406.03,216.23 L406.40,218.32 L406.76,220.41 L407.12,222.51 L407.49,224.60 L407.85,226.70 L408.21,228.80 L408.58,230.89 L408.94,232.99 L409.30,235.08 L409.67,237.17 L410.03,239.26 L410.39,241.35 L410.76,243.44 L411.12,245.52 L411.48,247.61 L411.85,249.68 L412.21,251.76 L412.57,253.83 L412.94,255.89 L413.30,257.96 L413.66,260.01 L414.03,262.06 L414.39,264.11 L414.75,266.15 L415.12,268.18 L415.48,270.21 L415.84,272.23 L416.21,274.24 L416.57,276.25 L416.94,278.24 L417.30,280.23 L417.66,282.21 L418.03,284.19 L418.39,286.15 L418.75,288.10 L419.12,290.05 L419.48,291.98 L419.84,293.90 L420.21,295.82 L420.57,297.72 L420.93,299.61 L421.30,301.49 L421.66,303.36 L422.02,305.21 L422.39,307.06 L422.75,308.89 L423.11,310.70 L423.48,312.51 L423.84,314.30 L424.20,316.08 L424.57,317.84 L424.93,319.59 L425.29,321.32 L425.66,323.04 L426.02,324.74 L426.38,326.43 L426.75,328.10 L427.11,329.76 L427.47,331.40 L427.84,333.02 L428.20,334.63 L428.56,336.22 L428.93,337.79 L429.29,339.35 L429.65,340.88 L430.02,342.40 L430.38,343.90 L430.74,345.38 L431.11,346.85 L431.47,348.29 L431.83,349.72 L432.20,351.12 L432.56,352.51 L432.92,353.88 L433.29,355.22 L433.65,356.55 L434.01,357.85 L434.38,359.14 L434.74,360.40 L435.11,361.64 L435.47,362.87 L435.83,364.07 L436.20,365.24 L436.56,366.40 L436.92,367.53 L437.29,368.65 L437.65,369.74 L438.01,370.80 L438.38,371.85 L438.74,372.87 L439.10,373.87 L439.47,374.84 L439.83,375.79 L440.19,376.72 L440.56,377.63 L440.92,378.51 L441.28,379.36 L441.65,380.19 L442.01,381.00 L442.37,381.79 L442.74,382.55 L443.10,383.28 L443.46,383.99 L443.83,384.68 L444.19,385.34 L444.55,385.97 L444.92,386.58 L445.28,387.17 L445.64,387.73 L446.01,388.26 L446.37,388.77 L446.73,389.25 L447.10,389.71 L447.46,390.14 L447.82,390.55 L448.19,390.93 L448.55,391.28 L448.91,391.61 L449.28,391.91 L449.64,392.18 L450.00,392.43 L450.37,392.66 L450.73,392.86 L451.09,393.03 L451.46,393.17 L451.82,393.29 L452.18,393.38 L452.55,393.45 L452.91,393.49 L453.27,393.50 L453.64,393.49 L454.00,393.45 L454.37,393.38 L454.73,393.29 L455.09,393.17 L455.46,393.03 L455.82,392.86 L456.18,392.66 L456.55,392.43 L456.91,392.18 L457.27,391.91 L457.64,391.61 L458.00,391.28 L458.36,390.93 L458.73,390.55 L459.09,390.14 L459.45,389.71 L459.82,389.25 L460.18,388.77 L460.54,388.26 L460.91,387.73 L461.27,387.17 L461.63,386.58 L462.00,385.97 L462.36,385.34 L462.72,384.68 L463.09,383.99 L463.45,383.28 L463.81,382.55 L464.18,381.79 L464.54,381.00 L464.90,380.19 L465.27,379.36 L465.63,378.51 L465.99,377.63 L466.36,376.72 L466.72,375.79 L467.08,374.84 L467.45,373.87 L467.81,372.87 L468.17,371.85 L468.54,370.80 L468.90,369.74 L469.26,368.65 L469.63,367.53 L469.99,366.40 L470.35,365.24 L470.72,364.07 L471.08,362.87 L471.44,361.64 L471.81,360.40 L472.17,359.14 L472.54,357.85 L472.90,356.55 L473.26,355.22 L473.63,353.88 L473.99,352.51 L474.35,351.12 L474.72,349.72 L475.08,348.29 L475.44,346.85 L475.81,345.38 L476.17,343.90 L476.53,342.40 L476.90,340.88 L477.26,339.35 L477.62,337.79 L477.99,336.22 L478.35,334.63 L478.71,333.02 L479.08,331.40 L479.44,329.76 L479.80,328.10 L480.17,326.43 L480.53,324.74 L480.89,323.04 L481.26,321.32 L481.62,319.59 L481.98,317.84 L482.35,316.08 L482.71,314.30 L483.07,312.51 L483.44,310.70 L483.80,308.89 L484.16,307.06 L484.53,305.21 L484.89,303.36 L485.25,301.49 L485.62,299.61 L485.98,297.72 L486.34,295.82 L486.71,293.90 L487.07,291.98 L487.43,290.05 L487.80,288.10 L488.16,286.15 L488.52,284.19 L488.89,282.21 L489.25,280.23 L489.62,278.24 L489.98,276.25 L490.34,274.24 L490.71,272.23 L491.07,270.21 L491.43,268.18 L491.80,266.15 L492.16,264.11 L492.52,262.06 L492.89,260.01 L493.25,257.96 L493.61,255.89 L493.98,253.83 L494.34,251.76 L494.70,249.68 L495.07,247.61 L495.43,245.52 L495.79,243.44 L496.16,241.35 L496.52,239.26 L496.88,237.17 L497.25,235.08 L497.61,232.99 L497.97,230.89 L498.34,228.80 L498.70,226.70 L499.06,224.60 L499.43,222.51 L499.79,220.41 L500.15,218.32 L500.52,216.23 L500.88,214.14 L501.24,212.05 L501.61,209.96 L501.97,207.88 L502.33,205.79 L502.70,203.72 L503.06,201.64 L503.42,199.57 L503.79,197.51 L504.15,195.44 L504.51,193.39 L504.88,191.34 L505.24,189.29 L505.60,187.25 L505.97,185.22 L506.33,183.19 L506.69,181.17 L507.06,179.16 L507.42,177.15 L507.78,175.16 L508.15,173.17 L508.51,171.19 L508.88,169.21 L509.24,167.25 L509.60,165.30 L509.97,163.35 L510.33,161.42 L510.69,159.50 L511.06,157.58 L511.42,155.68 L511.78,153.79 L512.15,151.91 L512.51,150.04 L512.87,148.19 L513.24,146.34 L513.60,144.51 L513.96,142.70 L514.33,140.89 L514.69,139.10 L515.05,137.32 L515.42,135.56 L515.78,133.81 L516.14,132.08 L516.51,130.36 L516.87,128.66 L517.23,126.97 L517.60,125.30 L517.96,123.64 L518.32,122.00 L518.69,120.38 L519.05,118.77 L519.41,117.18 L519.78,115.61 L520.14,114.05 L520.50,112.52 L520.87,111.00 L521.23,109.50 L521.59,108.02 L521.96,106.55 L522.32,105.11 L522.68,103.68 L523.05,102.28 L523.41,100.89 L523.77,99.52 L524.14,98.18 L524.50,96.85 L524.86,95.55 L525.23,94.26 L525.59,93.00 L525.95,91.76 L526.32,90.53 L526.68,89.33 L527.05,88.16 L527.41,87.00 L527.77,85.87 L528.14,84.75 L528.50,83.66 L528.86,82.60 L529.23,81.55 L529.59,80.53 L529.95,79.53 L530.32,78.56 L530.68,77.61 L531.04,76.68 L531.41,75.77 L531.77,74.89 L532.13,74.04 L532.50,73.21 L532.86,72.40 L533.22,71.61 L533.59,70.85 L533.95,70.12 L534.31,69.41 L534.68,68.72 L535.04,68.06 L535.40,67.43 L535.77,66.82 L536.13,66.23 L536.49,65.67 L536.86,65.14 L537.22,64.63 L537.58,64.15 L537.95,63.69 L538.31,63.26 L538.67,62.85 L539.04,62.47 L539.40,62.12 L539.76,61.79 L540.13,61.49 L540.49,61.22 L540.85,60.97 L541.22,60.74 L541.58,60.54 L541.94,60.37 L542.31,60.23 L542.67,60.11 L543.03,60.02 L543.40,59.95 L543.76,59.91 L544.12,59.90 L544.49,59.91 L544.85,59.95 L545.22,60.02 L545.58,60.11 L545.94,60.23 L546.31,60.37 L546.67,60.54 L547.03,60.74 L547.40,60.97 L547.76,61.22 L548.12,61.49 L548.49,61.79 L548.85,62.12 L549.21,62.47 L549.58,62.85 L549.94,63.26 L550.30,63.69 L550.67,64.15 L551.03,64.63 L551.39,65.14 L551.76,65.67 L552.12,66.23 L552.48,66.82 L552.85,67.43 L553.21,68.06 L553.57,68.72 L553.94,69.41 L554.30,70.12 L554.66,70.85 L555.03,71.61 L555.39,72.40 L555.75,73.21 L556.12,74.04 L556.48,74.89 L556.84,75.77 L557.21,76.68 L557.57,77.61 L557.93,78.56 L558.30,79.53 L558.66,80.53 L559.02,81.55 L559.39,82.60 L559.75,83.66 L560.11,84.75 L560.48,85.87 L560.84,87.00 L561.20,88.16 L561.57,89.33 L561.93,90.53 L562.29,91.76 L562.66,93.00 L563.02,94.26 L563.39,95.55 L563.75,96.85 L564.11,98.18 L564.48,99.52 L564.84,100.89 L565.20,102.28 L565.57,103.68 L565.93,105.11 L566.29,106.55 L566.66,108.02 L567.02,109.50 L567.38,111.00 L567.75,112.52 L568.11,114.05 L568.47,115.61 L568.84,117.18 L569.20,118.77 L569.56,120.38 L569.93,122.00 L570.29,123.64 L570.65,125.30 L571.02,126.97 L571.38,128.66 L571.74,130.36 L572.11,132.08 L572.47,133.81 L572.83,135.56 L573.20,137.32 L573.56,139.10 L573.92,140.89 L574.29,142.70 L574.65,144.51 L575.01,146.34 L575.38,148.19 L575.74,150.04 L576.10,151.91 L576.47,153.79 L576.83,155.68 L577.19,157.58 L577.56,159.50 L577.92,161.42 L578.28,163.35 L578.65,165.30 L579.01,167.25 L579.37,169.21 L579.74,171.19 L580.10,173.17 L580.47,175.16 L580.83,177.15 L581.19,179.16 L581.56,181.17 L581.92,183.19 L582.28,185.22 L582.65,187.25 L583.01,189.29 L583.37,191.34 L583.74,193.39 L584.10,195.44 L584.46,197.51 L584.83,199.57 L585.19,201.64 L585.55,203.72 L585.92,205.79 L586.28,207.88 L586.64,209.96 L587.01,212.05 L587.37,214.14 L587.73,216.23 L588.10,218.32 L588.46,220.41 L588.82,222.51 L589.19,224.60 L589.55,226.70 L589.91,228.80 L590.28,230.89 L590.64,232.99 L591.00,235.08 L591.37,237.17 L591.73,239.26 L592.09,241.35 L592.46,243.44 L592.82,245.52 L593.18,247.61 L593.55,249.68 L593.91,251.76 L594.27,253.83 L594.64,255.89 L595.00,257.96 L595.36,260.01 L595.73,262.06 L596.09,264.11 L596.45,266.15 L596.82,268.18 L597.18,270.21 L597.54,272.23 L597.91,274.24 L598.27,276.25 L598.63,278.24 L599.00,280.23 L599.36,282.21 L599.73,284.19 L600.09,286.15 L600.45,288.10 L600.82,290.05 L601.18,291.98 L601.54,293.90 L601.91,295.82 L602.27,297.72 L602.63,299.61 L603.00,301.49 L603.36,303.36 L603.72,305.21 L604.09,307.06 L604.45,308.89 L604.81,310.70 L605.18,312.51 L605.54,314.30 L605.90,316.08 L606.27,317.84 L606.63,319.59 L606.99,321.32 L607.36,323.04 L607.72,324.74 L608.08,326.43 L608.45,328.10 L608.81,329.76 L609.17,331.40 L609.54,333.02 L609.90,334.63 L610.26,336.22 L610.63,337.79 L610.99,339.35 L611.35,340.88 L611.72,342.40 L612.08,343.90 L612.44,345.38 L612.81,346.85 L613.17,348.29 L613.53,349.72 L613.90,351.12 L614.26,352.51 L614.62,353.88 L614.99,355.22 L615.35,356.55 L615.71,357.85 L616.08,359.14 L616.44,360.40 L616.80,361.64 L617.17,362.87 L617.53,364.07 L617.90,365.24 L618.26,366.40 L618.62,367.53 L618.99,368.65 L619.35,369.74 L619.71,370.80 L620.08,371.85 L620.44,372.87 L620.80,373.87 L621.17,374.84 L621.53,375.79 L621.89,376.72 L622.26,377.63 L622.62,378.51 L622.98,379.36 L623.35,380.19 L623.71,381.00 L624.07,381.79 L624.44,382.55 L624.80,383.28 L625.16,383.99 L625.53,384.68 L625.89,385.34 L626.25,385.97 L626.62,386.58 L626.98,387.17 L627.34,387.73 L627.71,388.26 L628.07,388.77 L628.43,389.25 L628.80,389.71 L629.16,390.14 L629.52,390.55 L629.89,390.93 L630.25,391.28 L630.61,391.61 L630.98,391.91 L631.34,392.18 L631.70,392.43 L632.07,392.66 L632.43,392.86 L632.79,393.03 L633.16,393.17 L633.52,393.29 L633.88,393.38 L634.25,393.45 L634.61,393.49 L634.98,393.50 L635.34,393.49 L635.70,393.45 L636.07,393.38 L636.43,393.29 L636.79,393.17 L637.16,393.03 L637.52,392.86 L637.88,392.66 L638.25,392.43 L638.61,392.18 L638.97,391.91 L639.34,391.61 L639.70,391.28 L640.06,390.93 L640.43,390.55 L640.79,390.14 L641.15,389.71 L641.52,389.25 L641.88,388.77 L642.24,388.26 L642.61,387.73 L642.97,387.17 L643.33,386.58 L643.70,385.97 L644.06,385.34 L644.42,384.68 L644.79,383.99 L645.15,383.28 L645.51,382.55 L645.88,381.79 L646.24,381.00 L646.60,380.19 L646.97,379.36 L647.33,378.51 L647.69,377.63 L648.06,376.72 L648.42,375.79 L648.78,374.84 L649.15,373.87 L649.51,372.87 L649.87,371.85 L650.24,370.80 L650.60,369.74 L650.96,368.65 L651.33,367.53 L651.69,366.40 L652.05,365.24 L652.42,364.07 L652.78,362.87 L653.14,361.64 L653.51,360.40 L653.87,359.14 L654.24,357.85 L654.60,356.55 L654.96,355.22 L655.33,353.88 L655.69,352.51 L656.05,351.12 L656.42,349.72 L656.78,348.29 L657.14,346.85 L657.51,345.38 L657.87,343.90 L658.23,342.40 L658.60,340.88 L658.96,339.35 L659.32,337.79 L659.69,336.22 L660.05,334.63 L660.41,333.02 L660.78,331.40 L661.14,329.76 L661.50,328.10 L661.87,326.43 L662.23,324.74 L662.59,323.04 L662.96,321.32 L663.32,319.59 L663.68,317.84 L664.05,316.08 L664.41,314.30 L664.77,312.51 L665.14,310.70 L665.50,308.89 L665.86,307.06 L666.23,305.21 L666.59,303.36 L666.95,301.49 L667.32,299.61 L667.68,297.72 L668.04,295.82 L668.41,293.90 L668.77,291.98 L669.13,290.05 L669.50,288.10 L669.86,286.15 L670.22,284.19 L670.59,282.21 L670.95,280.23 L671.32,278.24 L671.68,276.25 L672.04,274.24 L672.41,272.23 L672.77,270.21 L673.13,268.18 L673.50,266.15 L673.86,264.11 L674.22,262.06 L674.59,260.01 L674.95,257.96 L675.31,255.89 L675.68,253.83 L676.04,251.76 L676.40,249.68 L676.77,247.61 L677.13,245.52 L677.49,243.44 L677.86,241.35 L678.22,239.26 L678.58,237.17 L678.95,235.08 L679.31,232.99 L679.67,230.89 L680.04,228.80 L680.40,226.70" fill="none" stroke="#1c1ca6" stroke-width="2.8" stroke-linecap="square"/>
<path d="M180.5,65.6 L185.5,71.0 L180.5,76.4 L175.5,71.0 Z" fill="#119011" stroke="#119011" stroke-width="0.8" stroke-linejoin="round"/>
<rect x="116.2" y="199.7" width="231.1" height="55.5" rx="3" ry="3" fill="#fff" fill-opacity="0.85" stroke="#d0d0d0" stroke-width="1.3"/>
<line x1="122.7" y1="212.5" x2="157.1" y2="212.5" stroke="#1c1ca6" stroke-width="2.8" stroke-linecap="square"/>
<line x1="122.7" y1="238.5" x2="157.1" y2="238.5" stroke="#c0283a" stroke-width="2.6" stroke-dasharray="9.513,4.114"/>
<text transform="translate(170.80,218.40) scale(1.13,1)" x="-0.78 9.99 19.06 27.25 32.02 36.65 47.84 57.47 62.20 71.79 77.44 86.71 96.00 104.15 113.58" y="0" font-size="17.62" fill="#444444" stroke="#444444" stroke-width="0.12">Bus (Reference)</text><text transform="translate(170.80,243.90) scale(1.13,1)" x="-0.26 4.19 13.47 21.60 30.93 45.61 49.44 58.86 68.38 72.09 84.36 93.64 102.91 112.50 118.14 128.05 133.05 142.61" y="0" font-size="17.62" fill="#444444" stroke="#444444" stroke-width="0.12">Incoming Generator</text>
<g stroke="#333333" stroke-width="2" stroke-linecap="square" fill="none">
<line x1="108.05" y1="43.2" x2="108.05" y2="410.2"/>
<line x1="108.05" y1="410.2" x2="707.9" y2="410.2"/>
</g>
<g stroke="#333333" stroke-width="1.5">
<line x1="135.30" y1="410.2" x2="135.30" y2="403.2"/><line x1="244.32" y1="410.2" x2="244.32" y2="403.2"/><line x1="353.34" y1="410.2" x2="353.34" y2="403.2"/><line x1="462.36" y1="410.2" x2="462.36" y2="403.2"/><line x1="571.38" y1="410.2" x2="571.38" y2="403.2"/><line x1="680.40" y1="410.2" x2="680.40" y2="403.2"/><line x1="108.05" y1="59.90" x2="115.05" y2="59.90"/><line x1="108.05" y1="101.60" x2="115.05" y2="101.60"/><line x1="108.05" y1="143.30" x2="115.05" y2="143.30"/><line x1="108.05" y1="185.00" x2="115.05" y2="185.00"/><line x1="108.05" y1="226.70" x2="115.05" y2="226.70"/><line x1="108.05" y1="268.40" x2="115.05" y2="268.40"/><line x1="108.05" y1="310.10" x2="115.05" y2="310.10"/><line x1="108.05" y1="351.80" x2="115.05" y2="351.80"/><line x1="108.05" y1="393.50" x2="115.05" y2="393.50"/>
</g>
<text transform="translate(100.90,67.20) scale(1.13,1)" x="-39.22 -27.97 -22.50 -11.36" y="0" font-size="20.79" fill="#333333" stroke="#333333" stroke-width="0.12">1.00</text><text transform="translate(100.90,108.90) scale(1.13,1)" x="-39.22 -27.97 -22.50 -11.36" y="0" font-size="20.79" fill="#333333" stroke="#333333" stroke-width="0.12">0.75</text><text transform="translate(100.90,150.60) scale(1.13,1)" x="-39.22 -27.97 -22.50 -11.36" y="0" font-size="20.79" fill="#333333" stroke="#333333" stroke-width="0.12">0.50</text><text transform="translate(100.90,192.30) scale(1.13,1)" x="-39.22 -27.97 -22.50 -11.36" y="0" font-size="20.79" fill="#333333" stroke="#333333" stroke-width="0.12">0.25</text><text transform="translate(100.90,234.00) scale(1.13,1)" x="-39.22 -27.97 -22.50 -11.36" y="0" font-size="20.79" fill="#333333" stroke="#333333" stroke-width="0.12">0.00</text><text transform="translate(56.81,275.70) scale(1.13,1)" x="-0.21 11.04 16.51 27.66" y="0" font-size="20.79" fill="#333333" stroke="#333333" stroke-width="0.12">0.25</text><text transform="translate(41.07,276.50) scale(1.227,1)" x="0" y="0" font-size="20.79" fill="#333333">−</text><text transform="translate(56.81,317.40) scale(1.13,1)" x="-0.21 11.04 16.51 27.66" y="0" font-size="20.79" fill="#333333" stroke="#333333" stroke-width="0.12">0.50</text><text transform="translate(41.07,318.20) scale(1.227,1)" x="0" y="0" font-size="20.79" fill="#333333">−</text><text transform="translate(56.81,359.10) scale(1.13,1)" x="-0.21 11.04 16.51 27.66" y="0" font-size="20.79" fill="#333333" stroke="#333333" stroke-width="0.12">0.75</text><text transform="translate(41.07,359.90) scale(1.227,1)" x="0" y="0" font-size="20.79" fill="#333333">−</text><text transform="translate(56.81,400.80) scale(1.13,1)" x="-0.21 11.04 16.51 27.66" y="0" font-size="20.79" fill="#333333" stroke="#333333" stroke-width="0.12">1.00</text><text transform="translate(41.07,401.60) scale(1.227,1)" x="0" y="0" font-size="20.79" fill="#333333">−</text><text transform="translate(135.30,431.70) scale(1.13,1)" x="-5.78" y="0" font-size="20.79" fill="#333333" stroke="#333333" stroke-width="0.12">0</text><text transform="translate(244.32,431.70) scale(1.13,1)" x="-11.36 -0.21" y="0" font-size="20.79" fill="#333333" stroke="#333333" stroke-width="0.12">10</text><text transform="translate(353.34,431.70) scale(1.13,1)" x="-11.36 -0.21" y="0" font-size="20.79" fill="#333333" stroke="#333333" stroke-width="0.12">20</text><text transform="translate(462.36,431.70) scale(1.13,1)" x="-11.36 -0.21" y="0" font-size="20.79" fill="#333333" stroke="#333333" stroke-width="0.12">30</text><text transform="translate(571.38,431.70) scale(1.13,1)" x="-11.36 -0.21" y="0" font-size="20.79" fill="#333333" stroke="#333333" stroke-width="0.12">40</text><text transform="translate(680.40,431.70) scale(1.13,1)" x="-11.36 -0.21" y="0" font-size="20.79" fill="#333333" stroke="#333333" stroke-width="0.12">50</text><text transform="translate(408.60,457.60) scale(1.13,1)" x="-45.43 -33.60 -28.98 -12.18 -1.11 4.52 11.27 27.83 37.55" y="0" font-size="20.79" fill="#333333" stroke="#333333" stroke-width="0.12">Time (ms)</text><text transform="translate(26.70,227.90) rotate(-90) scale(1.13,1)" x="-60.79 -48.28 -37.02 -31.73 -25.81 -14.88 -3.93 7.13 12.76 19.42 30.66 36.11 47.34 52.97" y="0" font-size="20.79" fill="#333333" stroke="#333333" stroke-width="0.12">Voltage (p.u.)</text>
<text transform="translate(408.00,32.50) scale(1.13,1)" x="-264.68 -248.30 -233.38 -219.01 -206.21 -191.09 -184.84 -162.52 -156.90 -144.13 -128.72 -122.07 -115.89 -100.71 -85.40 -62.44 -47.49 -31.26 -22.76 -15.31 -0.35 15.18 22.76 38.17 47.29 62.41 68.29 85.34 99.21 114.17 127.54 143.22 152.29 167.20 182.86 188.52 201.34 217.32 226.13 232.03 246.94" y="0" font-size="28.40" fill="#404040" stroke="#404040" stroke-width="0">Phase Misalignment before Synchronization</text>
</svg>
</body></html>
